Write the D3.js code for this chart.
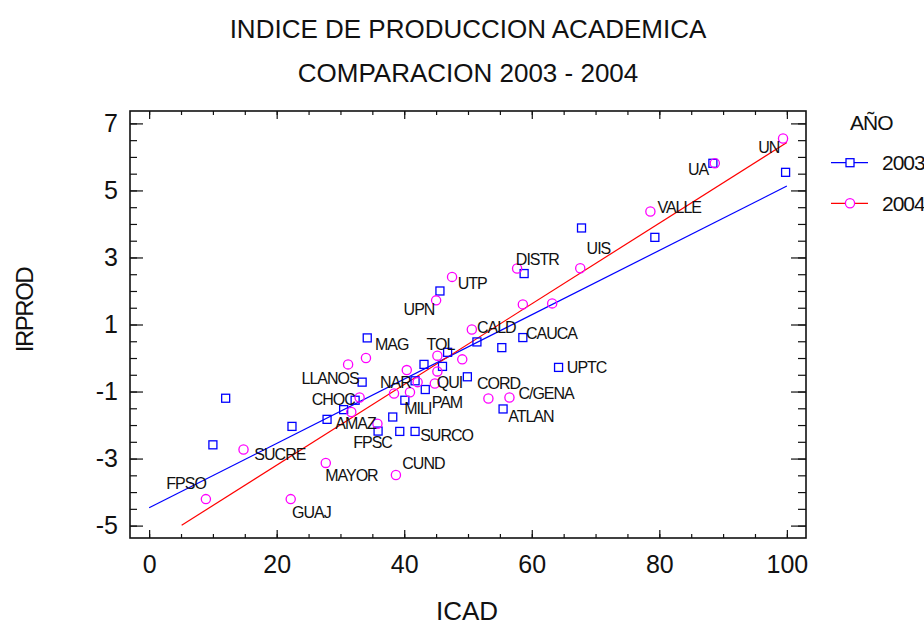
<!DOCTYPE html>
<html>
<head>
<meta charset="utf-8">
<script src="https://cdnjs.cloudflare.com/ajax/libs/d3/7.8.5/d3.min.js"></script>
<style>
  body { margin: 0; background: #fff; }
  text { font-family: "Liberation Sans", Arial, sans-serif; fill: #111; }
</style>
</head>
<body>
<div id="chart"></div>
<script>
// values
const xTicks = [0, 20, 40, 60, 80, 100];
const yTicks = [-5, -3, -1, 1, 3, 5, 7];

// 2003 (squares): [ICAD, IRPROD]
const data2003 = [
    [99.8, 5.54], [88.4, 5.81], [79.3, 3.60], [67.8, 3.88], [58.8, 2.52],
    [45.6, 2.00], [58.6, 0.61], [51.4, 0.48], [55.3, 0.31], [46.8, 0.17],
    [43.1, -0.19], [46.0, -0.25], [64.2, -0.28], [49.9, -0.56], [41.7, -0.68],
    [43.3, -0.94], [40.1, -1.26], [55.5, -1.52], [38.2, -1.76], [35.9, -2.18],
    [39.3, -2.19], [41.7, -2.19], [34.2, 0.60], [33.4, -0.72], [32.3, -1.26],
    [30.5, -1.54], [27.9, -1.83], [12.0, -1.20], [22.4, -2.04], [10.0, -2.59]
];

// 2004 (circles)
const data2004 = [
    [99.4, 6.55], [88.7, 5.81], [78.6, 4.37], [67.6, 2.68], [57.7, 2.67],
    [47.5, 2.42], [45.0, 1.72], [58.6, 1.60], [63.2, 1.63], [50.6, 0.85],
    [45.2, 0.07], [49.1, -0.04], [40.4, -0.36], [45.2, -0.40], [42.1, -0.72],
    [44.8, -0.76], [40.9, -1.02], [38.4, -1.06], [53.2, -1.21], [56.5, -1.18],
    [35.8, -1.96], [38.7, -3.49], [34.0, 0.00], [31.2, -0.19], [33.0, -1.18],
    [31.7, -1.61], [14.8, -2.73], [27.7, -3.13], [8.9, -4.21], [22.2, -4.21]
];

// fitted lines (end points)
const fit2003 = [[0, -4.47], [100, 5.13]];
const fit2004 = [[5.1, -4.99], [100, 6.43]];

// point labels: [name, x, y] (left edge, vertical middle)
const labels = [
    ['UN', 95.5, 6.30], ['UA', 84.5, 5.64], ['VALLE', 79.7, 4.51], ['UIS', 68.6, 3.27],
    ['DISTR', 57.5, 2.94], ['UTP', 48.4, 2.24], ['UPN', 39.9, 1.45], ['CALD', 51.4, 0.91],
    ['CAUCA', 59.1, 0.75], ['MAG', 35.4, 0.41], ['TOL', 43.5, 0.41], ['UPTC', 65.5, -0.28],
    ['LLANOS', 23.9, -0.59], ['NAR', 36.2, -0.71], ['QUI', 45.1, -0.71], ['CORD', 51.4, -0.74],
    ['C/GENA', 57.9, -1.04], ['CHOC', 25.5, -1.23], ['PAM', 44.3, -1.31], ['MILI', 40.0, -1.50],
    ['ATLAN', 56.3, -1.74], ['AMAZ', 29.2, -1.95], ['SURCO', 42.5, -2.30], ['FPSC', 32.0, -2.50],
    ['SUCRE', 16.5, -2.87], ['CUND', 39.7, -3.15], ['MAYOR', 27.6, -3.50], ['FPSO', 2.7, -3.73],
    ['GUAJ', 22.4, -4.59]
];

const margin = { top: 111, left: 130 };
const width = 676;
const height = 427;
const blue = '#0000ff';
const magenta = '#ff00ff';
const red = '#ff0000';

const root = d3.select('#chart')
    .append('svg')
    .attr('width', 924)
    .attr('height', 628);

const svg = root.append('g')
    .attr('transform', `translate(${margin.left},${margin.top})`);

const x = d3.scaleLinear().domain([-3, 103]).range([0, width]);
const y = d3.scaleLinear().domain([-5.37, 7.37]).range([height, 0]);

// minor ticks
const xMinor = d3.range(0, 101, 5);
const yMinor = d3.range(-5, 7.01, 0.5);

// plain hyphen for negatives, like the original
const fmt = d => String(d);

const tickStyle = g => {
    g.select('.domain').remove();
    g.selectAll('line').attr('stroke', '#111').attr('stroke-width', 1.2);
};

// bottom
svg.append('g').attr('transform', `translate(0,${height})`)
    .call(d3.axisBottom(x).tickValues(xMinor).tickSize(-4).tickFormat(''))
    .call(tickStyle);
svg.append('g').attr('transform', `translate(0,${height})`)
    .call(d3.axisBottom(x).tickValues(xTicks).tickSize(-8).tickPadding(17).tickFormat(fmt))
    .call(tickStyle)
    .call(g => g.selectAll('text').attr('font-size', 25).attr('fill', '#111'));
// top
svg.append('g')
    .call(d3.axisTop(x).tickValues(xMinor).tickSize(-4).tickFormat(''))
    .call(tickStyle);
svg.append('g')
    .call(d3.axisTop(x).tickValues(xTicks).tickSize(-8).tickFormat(''))
    .call(tickStyle);
// left
svg.append('g')
    .call(d3.axisLeft(y).tickValues(yMinor).tickSize(-7).tickFormat(''))
    .call(tickStyle);
svg.append('g')
    .call(d3.axisLeft(y).tickValues(yTicks).tickSize(-13).tickPadding(12).tickFormat(fmt))
    .call(tickStyle)
    .call(g => g.selectAll('text').attr('font-size', 25).attr('fill', '#111'));
// right
svg.append('g').attr('transform', `translate(${width},0)`)
    .call(d3.axisRight(y).tickValues(yMinor).tickSize(-8).tickFormat(''))
    .call(tickStyle);
svg.append('g').attr('transform', `translate(${width},0)`)
    .call(d3.axisRight(y).tickValues(yTicks).tickSize(-15).tickFormat(''))
    .call(tickStyle);

// frame
svg.append('rect')
    .attr('width', width)
    .attr('height', height)
    .attr('fill', 'none')
    .attr('stroke', '#111')
    .attr('stroke-width', 1.6);

// fit lines
const line = d3.line().x(d => x(d[0])).y(d => y(d[1]));
svg.append('path').datum(fit2003).attr('d', line)
    .attr('fill', 'none').attr('stroke', blue).attr('stroke-width', 1.2);
svg.append('path').datum(fit2004).attr('d', line)
    .attr('fill', 'none').attr('stroke', red).attr('stroke-width', 1.2);

// points
svg.selectAll('.sq')
    .data(data2003)
    .enter()
    .append('rect')
    .attr('class', 'sq')
    .attr('x', d => x(d[0]) - 4)
    .attr('y', d => y(d[1]) - 4)
    .attr('width', 8)
    .attr('height', 8)
    .attr('fill', 'none')
    .attr('stroke', blue)
    .attr('stroke-width', 1.3);

svg.selectAll('.ci')
    .data(data2004)
    .enter()
    .append('circle')
    .attr('class', 'ci')
    .attr('cx', d => x(d[0]))
    .attr('cy', d => y(d[1]))
    .attr('r', 4.6)
    .attr('fill', 'none')
    .attr('stroke', magenta)
    .attr('stroke-width', 1.3);

// labels
svg.selectAll('.lbl')
    .data(labels)
    .enter()
    .append('text')
    .attr('class', 'lbl')
    .attr('x', d => x(d[1]))
    .attr('y', d => y(d[2]))
    .attr('dy', '0.36em')
    .attr('font-size', 16)
    .attr('letter-spacing', -1)
    .text(d => d[0]);

// titles
root.append('text').attr('x', 468).attr('y', 38).attr('text-anchor', 'middle')
    .attr('font-size', 26).text('INDICE DE PRODUCCION ACADEMICA');
root.append('text').attr('x', 468).attr('y', 82).attr('text-anchor', 'middle')
    .attr('font-size', 26).text('COMPARACION 2003 - 2004');

// axis titles
root.append('text').attr('x', 467).attr('y', 620).attr('text-anchor', 'middle')
    .attr('font-size', 26).text('ICAD');
root.append('text')
    .attr('transform', 'translate(33,310) rotate(-90)')
    .attr('text-anchor', 'middle')
    .attr('font-size', 24)
    .attr('letter-spacing', -1.5)
    .text('IRPROD');

// legend
const legend = root.append('g');
legend.append('text').attr('x', 850).attr('y', 130)
    .attr('font-size', 21).attr('letter-spacing', -1).text('AÑO');
const items = [['2003', blue, blue, 'sq'], ['2004', red, magenta, 'ci']];
items.forEach((it, i) => {
    const ly = 162.7 + i * 40.6;
    legend.append('line').attr('x1', 831).attr('x2', 868).attr('y1', ly).attr('y2', ly)
        .attr('stroke', it[1]).attr('stroke-width', 1.2);
    if (it[3] === 'sq') {
        legend.append('rect').attr('x', 846).attr('y', ly - 4).attr('width', 8).attr('height', 8)
            .attr('fill', '#fff').attr('stroke', it[2]).attr('stroke-width', 1.3);
    } else {
        legend.append('circle').attr('cx', 850).attr('cy', ly).attr('r', 4.6)
            .attr('fill', '#fff').attr('stroke', it[2]).attr('stroke-width', 1.3);
    }
    legend.append('text').attr('x', 882).attr('y', ly).attr('dy', '0.36em')
        .attr('font-size', 21).attr('letter-spacing', -1).text(it[0]);
});
</script>
</body>
</html>
